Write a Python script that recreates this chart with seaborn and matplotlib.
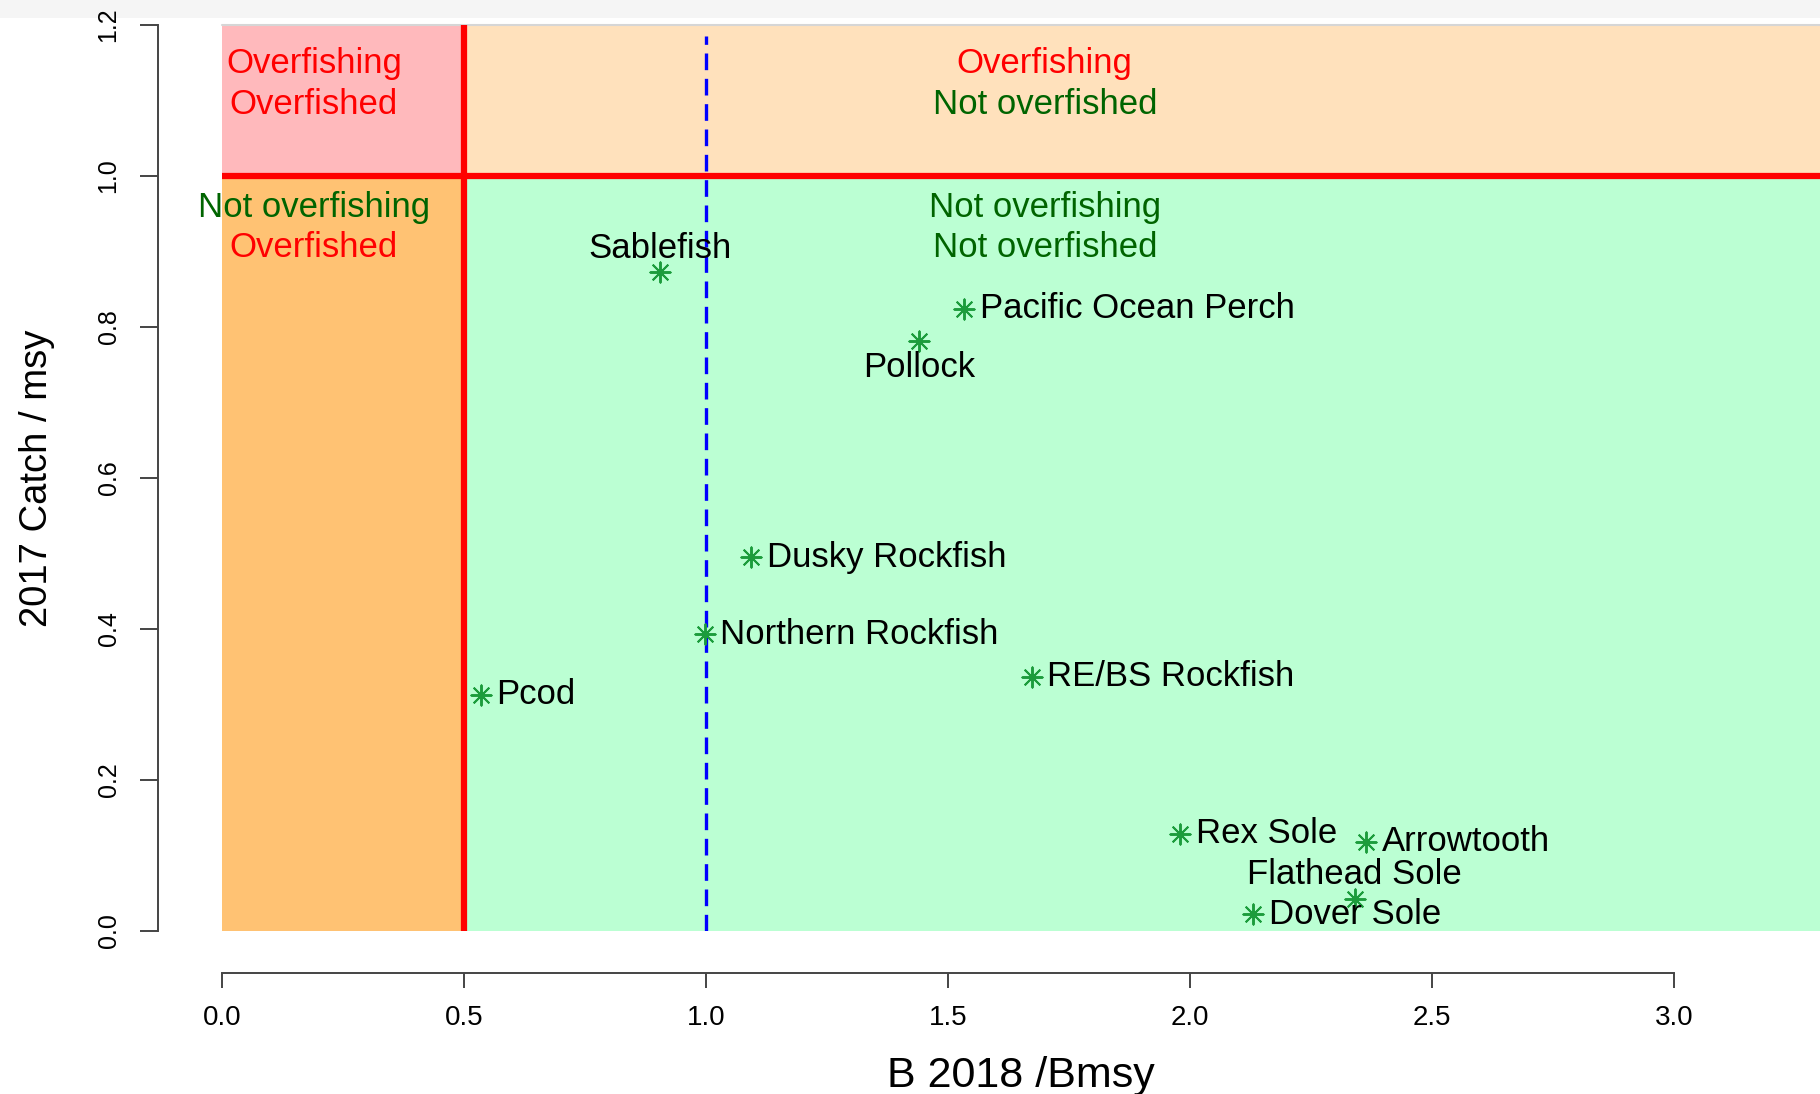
import matplotlib
matplotlib.use("Agg")
import matplotlib.pyplot as plt
import seaborn as sns
import pandas as pd
from matplotlib.patches import Rectangle

# ---------------- data ----------------
species = ["Sablefish", "Pacific Ocean Perch", "Pollock", "Dusky Rockfish",
           "Northern Rockfish", "RE/BS Rockfish", "Pcod", "Rex Sole",
           "Arrowtooth", "Flathead Sole", "Dover Sole"]
b_ratio = [0.905, 1.534, 1.440, 1.094, 0.998, 1.673, 0.535, 1.980, 2.364, 2.340, 2.131]
c_ratio = [0.873, 0.824, 0.781, 0.495, 0.393, 0.337, 0.313, 0.129, 0.118, 0.043, 0.022]
label_side = ["above", "right", "below", "right", "right", "right", "right",
              "right", "right", "above", "right"]

b_limit = 0.5      # overfished threshold
b_target = 1.0     # Bmsy
f_limit = 1.0      # overfishing threshold
y_top = 1.2

x_ticks = [0.0, 0.5, 1.0, 1.5, 2.0, 2.5, 3.0]
x_tick_labels = ["0.0", "0.5", "1.0", "1.5", "2.0", "2.5", "3.0"]
y_ticks = [0.0, 0.2, 0.4, 0.6, 0.8, 1.0, 1.2]
y_tick_labels = ["0.0", "0.2", "0.4", "0.6", "0.8", "1.0", "1.2"]

region_text = [
    # (x, y, text, color)
    (0.19, 1.149, "Overfishing", "red"),
    (0.19, 1.095, "Overfished", "red"),
    (1.70, 1.149, "Overfishing", "red"),
    (1.70, 1.095, "Not overfished", "#006400"),
    (0.19, 0.958, "Not overfishing", "#006400"),
    (0.19, 0.905, "Overfished", "red"),
    (1.70, 0.958, "Not overfishing", "#006400"),
    (1.70, 0.905, "Not overfished", "#006400"),
]

df = pd.DataFrame({"species": species, "B": b_ratio, "C": c_ratio, "side": label_side})

# ---------------- style ----------------
sns.set_theme(style="white")
plt.rcParams["font.family"] = ["Liberation Sans", "DejaVu Sans"]

W, H = 1820, 1094
fig = plt.figure(figsize=(W / 100, H / 100), dpi=100)

# light gray strip at very top (screenshot remnant)
fig.patches.append(Rectangle((0, 1 - 18 / H), 1, 18 / H, transform=fig.transFigure,
                             facecolor="#f5f5f5", edgecolor="none", zorder=-5))

x_left_px, x_unit = 222, 484.0
ax = fig.add_axes([x_left_px / W, 1 - 931 / H, (W - x_left_px) / W, (931 - 25) / H])
x_right = (W - x_left_px) / x_unit
ax.set_xlim(0, x_right)
ax.set_ylim(0, y_top)
ax.set_facecolor("none")

# colored quadrants
ax.fill_between([0, b_limit], f_limit, y_top, color="#FFB9BC", lw=0, zorder=0)
ax.fill_between([b_limit, x_right], f_limit, y_top, color="#FFE1BC", lw=0, zorder=0)
ax.fill_between([0, b_limit], 0, f_limit, color="#FFC273", lw=0, zorder=0)
ax.fill_between([b_limit, x_right], 0, f_limit, color="#BBFFD3", lw=0, zorder=0)
ax.plot([0, x_right], [y_top, y_top], color="#d6d6d6", lw=1.5, zorder=1, clip_on=False)

# reference lines
ax.plot([b_limit, b_limit], [0, y_top], color="red", lw=4.5, solid_capstyle="round", zorder=2)
ax.plot([0, x_right], [f_limit, f_limit], color="red", lw=4.5, solid_capstyle="round", zorder=2)
ax.plot([b_target, b_target], [0, 1.185], color="blue", lw=2.4, dashes=(5, 2.6), zorder=2)

# points
sns.scatterplot(data=df, x="B", y="C", marker=(8, 2, 0), s=210, color="#1c9c3c",
                linewidth=1.4, ax=ax, zorder=4, legend=False)

offsets = {"right": (11, 0, "left"), "above": (0, 17, "center"), "below": (0, -19, "center")}
for _, r in df.iterrows():
    dx, dy, ha = offsets[r["side"]]
    ax.annotate(r["species"], (r["B"], r["C"]), xytext=(dx, dy), textcoords="offset points",
                ha=ha, va="center", fontsize=25, color="black", zorder=5)

for x, y, t, c in region_text:
    ax.text(x, y, t, ha="center", va="center", fontsize=25, color=c, zorder=5, clip_on=False)

# R-style axes
for s in ["top", "right"]:
    ax.spines[s].set_visible(False)
ax.spines["left"].set_position(("outward", 46))
ax.spines["bottom"].set_position(("outward", 30))
ax.spines["left"].set_bounds(0, y_top)
ax.spines["bottom"].set_bounds(0, 3.0)
for s in ["left", "bottom"]:
    ax.spines[s].set_color("#444444")
    ax.spines[s].set_linewidth(1.4)

ax.set_xticks(x_ticks)
ax.set_xticklabels(x_tick_labels, fontsize=20, color="black")
ax.set_yticks(y_ticks)
ax.set_yticklabels(y_tick_labels, fontsize=18, rotation=90, va="center", color="black")
ax.tick_params(axis="x", length=11, width=1.4, color="#444444", pad=12, bottom=True)
ax.tick_params(axis="y", length=13, width=1.4, color="#444444", pad=14, left=True)

ax.set_xlabel("B 2018 /Bmsy", fontsize=31, labelpad=18, color="black")
ax.set_ylabel("2017 Catch / msy", fontsize=27.5, labelpad=30, color="black")
ax.grid(False)

fig.savefig("out.png", dpi=100)
